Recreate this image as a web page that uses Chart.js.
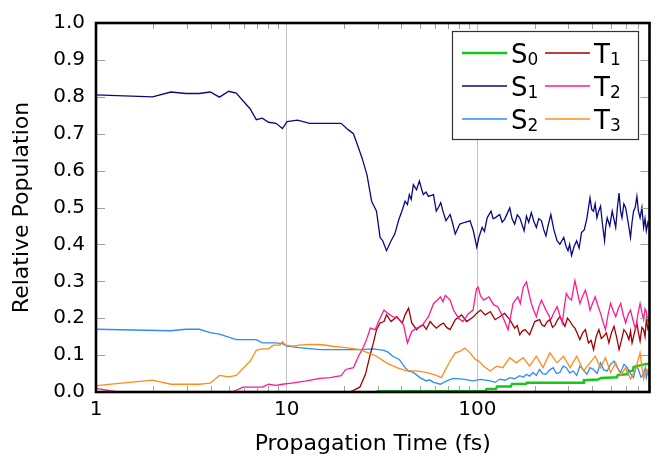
<!DOCTYPE html>
<html>
<head>
<meta charset="utf-8">
<title>Relative Population</title>
<script src="https://cdn.jsdelivr.net/npm/chart.js@4.4.1/dist/chart.umd.min.js"></script>
<style>
  html, body { margin: 0; padding: 0; background: #fff; }
  canvas { display: block; }
</style>
</head>
<body>
<canvas id="chartPopulasi" width="660" height="462"></canvas>
<script>
// Data: [waktu (fs), populasi relatif]
const s0 = [[29.6,0.002],[110,0.002],[112,0.008],[125,0.008],[127,0.015],[150,0.015],[152,0.022],[180,0.022],[182,0.025],[360,0.025],[362,0.032],[430,0.034],[445,0.038],[540,0.04],[545,0.046],[610,0.048],[614,0.056],[655,0.058],[660,0.068],[714,0.072],[770,0.076],[800,0.077]];
const s1 = [[1,0.805],[1.98,0.8],[2.47,0.813],[2.96,0.809],[3.48,0.809],[3.97,0.813],[4.44,0.799],[4.97,0.815],[5.44,0.81],[6.44,0.767],[6.93,0.738],[7.45,0.742],[8.04,0.731],[8.8,0.728],[9.5,0.714],[10.05,0.733],[11.4,0.737],[13.2,0.728],[19.3,0.728],[21,0.711],[22.4,0.7],[23.4,0.673],[24.9,0.633],[26.4,0.588],[27.9,0.517],[29.6,0.49],[30.9,0.419],[31.9,0.41],[33.4,0.383],[35.3,0.41],[36.9,0.428],[38.8,0.468],[40.2,0.49],[41.8,0.517],[43,0.508],[44,0.535],[45,0.522],[46.2,0.562],[48,0.548],[49.7,0.572],[51,0.55],[52.1,0.535],[53.8,0.542],[55.4,0.53],[58.9,0.535],[60.9,0.49],[62.5,0.5],[64.3,0.513],[66,0.49],[68.5,0.464],[72,0.481],[74,0.46],[76.6,0.428],[80.9,0.455],[86.2,0.46],[91.6,0.464],[95.3,0.437],[99.4,0.392],[102,0.42],[106,0.446],[109,0.435],[112.6,0.472],[118,0.49],[121,0.47],[124,0.472],[131,0.481],[135,0.46],[139,0.468],[148,0.499],[152,0.47],[157,0.455],[162,0.48],[167,0.472],[176,0.437],[181,0.477],[186,0.46],[192,0.486],[198,0.462],[204,0.446],[210,0.47],[217,0.464],[223,0.44],[229,0.423],[236,0.455],[243,0.481],[252,0.44],[262,0.41],[271,0.4],[284,0.419],[292,0.395],[299,0.383],[305,0.4],[312,0.37],[322,0.395],[332,0.41],[342,0.39],[352,0.432],[364,0.44],[376,0.472],[383,0.5],[390,0.526],[398,0.495],[407,0.49],[415,0.51],[424,0.472],[433,0.49],[443,0.504],[452,0.46],[465,0.41],[472,0.45],[480,0.472],[495,0.45],[510,0.49],[520,0.47],[532,0.446],[543,0.5],[554,0.539],[564,0.49],[574,0.472],[587,0.51],[600,0.499],[618,0.46],[636,0.419],[648,0.46],[660,0.49],[673,0.5],[687,0.53],[700,0.49],[714,0.472],[730,0.5],[745,0.446],[758,0.47],[770,0.437],[785,0.46],[800,0.45]];
const s2 = [[1,0.17],[2.47,0.166],[2.96,0.17],[3.48,0.17],[3.97,0.161],[4.44,0.157],[5.44,0.142],[6.93,0.142],[7.45,0.133],[8.8,0.133],[9.5,0.131],[10.05,0.124],[11.6,0.12],[15,0.115],[19,0.115],[24.2,0.115],[28.5,0.117],[32.4,0.113],[34,0.108],[36,0.097],[39,0.088],[41.8,0.066],[43.6,0.057],[46.2,0.053],[50,0.039],[54,0.03],[56,0.033],[59,0.026],[64,0.021],[69,0.03],[75,0.037],[84,0.035],[95,0.03],[104,0.034],[117,0.03],[124,0.026],[131,0.035],[140,0.032],[148,0.039],[157,0.036],[167,0.044],[174,0.04],[181,0.048],[188,0.043],[196,0.053],[204,0.045],[212,0.061],[220,0.05],[229,0.048],[240,0.06],[250,0.066],[260,0.05],[271,0.053],[282,0.07],[293,0.066],[305,0.052],[319,0.057],[332,0.045],[345,0.07],[360,0.06],[376,0.048],[390,0.066],[407,0.061],[425,0.05],[443,0.079],[460,0.06],[480,0.057],[500,0.075],[521,0.084],[543,0.065],[565,0.053],[588,0.075],[612,0.066],[636,0.05],[660,0.039],[680,0.07],[700,0.061],[722,0.04],[745,0.048],[760,0.065],[770,0.039],[785,0.058],[800,0.05]];
const t1 = [[21.5,0],[24.2,0.013],[25.9,0.048],[27.3,0.097],[28.5,0.133],[29.6,0.169],[30.9,0.187],[32.4,0.191],[33.4,0.209],[35.3,0.191],[37.8,0.204],[40.4,0.187],[41.8,0.209],[43.6,0.227],[45.3,0.187],[48,0.169],[50,0.178],[52,0.182],[54,0.17],[56.6,0.191],[59,0.18],[61,0.173],[64,0.182],[66.5,0.187],[69,0.175],[72,0.169],[76.6,0.196],[82.7,0.209],[88,0.191],[95.5,0.204],[100,0.215],[104,0.222],[110,0.209],[117,0.218],[124,0.196],[131,0.204],[139,0.213],[148,0.196],[157,0.173],[162,0.18],[167,0.155],[172,0.165],[178,0.169],[188,0.155],[200,0.191],[212,0.196],[218,0.182],[225,0.178],[232,0.19],[240,0.196],[248,0.175],[256,0.182],[263,0.195],[271,0.204],[280,0.19],[288,0.178],[297,0.2],[307,0.191],[316,0.18],[325,0.173],[335,0.158],[345,0.142],[357,0.16],[369,0.169],[376,0.15],[383,0.133],[395,0.14],[407,0.115],[420,0.15],[434,0.169],[447,0.145],[460,0.151],[475,0.16],[490,0.133],[505,0.16],[521,0.178],[537,0.15],[554,0.115],[570,0.14],[587,0.169],[605,0.16],[624,0.142],[636,0.165],[648,0.133],[667,0.16],[687,0.187],[700,0.16],[714,0.138],[730,0.175],[745,0.169],[758,0.15],[770,0.196],[785,0.17],[800,0.18]];
const t2 = [[1,0.01],[1.3,0],[5.2,0],[5.9,0.013],[7.45,0.013],[8.04,0.021],[8.8,0.018],[9.5,0.021],[10.6,0.024],[12.7,0.03],[15,0.037],[16.9,0.039],[19.3,0.044],[20.4,0.061],[22.4,0.066],[23.8,0.097],[25.4,0.124],[26.4,0.146],[27.5,0.173],[29.1,0.169],[30.6,0.195],[32.4,0.222],[34,0.213],[36,0.204],[38.3,0.2],[41,0.182],[43,0.133],[45.3,0.164],[48,0.173],[51,0.178],[55.4,0.204],[59,0.24],[62,0.25],[64,0.258],[66,0.245],[68,0.262],[72,0.249],[75,0.222],[79.7,0.2],[84,0.191],[90,0.213],[95,0.222],[99,0.28],[101,0.284],[104,0.26],[108,0.249],[115,0.258],[122,0.236],[128,0.231],[136,0.204],[145,0.169],[154,0.24],[163,0.258],[168,0.24],[174,0.284],[181,0.298],[186,0.27],[192,0.24],[198,0.22],[204,0.204],[210,0.23],[217,0.249],[223,0.235],[229,0.222],[236,0.21],[243,0.196],[252,0.215],[262,0.231],[270,0.21],[279,0.187],[286,0.23],[293,0.267],[302,0.255],[312,0.249],[318,0.275],[325,0.302],[335,0.27],[345,0.24],[357,0.26],[369,0.276],[380,0.25],[390,0.222],[402,0.24],[415,0.258],[428,0.235],[443,0.213],[456,0.19],[470,0.169],[485,0.21],[500,0.24],[516,0.22],[532,0.204],[548,0.225],[565,0.24],[582,0.21],[600,0.187],[618,0.21],[636,0.222],[655,0.195],[676,0.169],[695,0.21],[714,0.24],[730,0.215],[745,0.196],[758,0.225],[770,0.218],[785,0.19],[800,0.2]];
const t3 = [[1,0.017],[1.98,0.032],[2.47,0.021],[3.48,0.021],[3.97,0.024],[4.44,0.045],[4.97,0.041],[5.44,0.045],[6.44,0.084],[6.93,0.113],[7.45,0.117],[8.04,0.117],[8.5,0.127],[9.2,0.127],[9.5,0.136],[9.9,0.127],[10.8,0.124],[11.6,0.127],[13.2,0.129],[15.4,0.128],[17.4,0.124],[20.4,0.12],[24.2,0.115],[26.8,0.106],[29.6,0.097],[33.4,0.079],[37.8,0.066],[42.6,0.057],[47.9,0.057],[54,0.053],[61,0.045],[64.8,0.039],[67.5,0.057],[72,0.084],[76.6,0.106],[81,0.11],[86,0.119],[91.6,0.106],[97.6,0.088],[101,0.085],[108,0.07],[117,0.057],[126,0.07],[136,0.066],[148,0.093],[160,0.079],[174,0.093],[188,0.07],[204,0.097],[221,0.066],[240,0.106],[262,0.079],[283,0.097],[307,0.066],[332,0.097],[361,0.057],[390,0.079],[415,0.097],[443,0.066],[470,0.093],[500,0.053],[532,0.079],[565,0.045],[600,0.066],[636,0.035],[676,0.061],[714,0.106],[745,0.035],[770,0.061],[800,0.04]];

const seriesData = [s0, s1, s2, t1, t2, t3];
const seriesName = ['S0', 'S1', 'S2', 'T1', 'T2', 'T3'];
const seriesColor = ['#14c814', '#0a0a80', '#2a8cff', '#a00000', '#ff1a8c', '#ff8c1a'];
const seriesWidth = [2.4, 1.3, 1.3, 1.3, 1.3, 1.3];
const yTicks = [0, 0.1, 0.2, 0.3, 0.4, 0.5, 0.6, 0.7, 0.8, 0.9, 1.0];
const xLabels = [1, 10, 100];

const FONT = 'DejaVu Sans';

// Bingkai, tick kecil, dan legenda gaya pgfplots
const framePlugin = {
  id: 'frame',
  afterDraw(chart) {
    const { ctx, chartArea: a, scales } = chart;
    ctx.save();
    ctx.strokeStyle = '#a0a0a0';
    ctx.lineWidth = 1;
    ctx.beginPath();
    yTicks.forEach(v => {
      const y = Math.round(scales.y.getPixelForValue(v)) + 0.5;
      ctx.moveTo(a.left, y); ctx.lineTo(a.left + 9, y);
      ctx.moveTo(a.right, y); ctx.lineTo(a.right - 9, y);
    });
    [1, 10, 100].forEach(d => {
      for (let k = 2; k <= 9; k++) {
        const v = d * k;
        if (v > scales.x.max) break;
        const x = Math.round(scales.x.getPixelForValue(v)) + 0.5;
        ctx.moveTo(x, a.top); ctx.lineTo(x, a.top + 6);
        ctx.moveTo(x, a.bottom); ctx.lineTo(x, a.bottom - 6);
      }
    });
    ctx.stroke();

    ctx.strokeStyle = '#000';
    ctx.lineWidth = 2.6;
    ctx.strokeRect(a.left, a.top, a.right - a.left, a.bottom - a.top);

    // legenda
    const bw = 186, bh = 108;
    const bx = a.right - 11 - bw, by = a.top + 8.5;
    ctx.fillStyle = '#fff';
    ctx.fillRect(bx, by, bw, bh);
    ctx.strokeStyle = '#333';
    ctx.lineWidth = 1.2;
    ctx.strokeRect(bx, by, bw, bh);
    chart.data.datasets.forEach((ds, i) => {
      const col = Math.floor(i / 3), row = i % 3;
      const lx = bx + 9.5 + col * 83;
      const ly = by + 21.5 + row * 33;
      ctx.strokeStyle = ds.borderColor;
      ctx.lineWidth = ds.borderWidth;
      ctx.beginPath();
      ctx.moveTo(lx, ly); ctx.lineTo(lx + 45, ly);
      ctx.stroke();
      ctx.fillStyle = '#000';
      ctx.textAlign = 'left';
      ctx.textBaseline = 'alphabetic';
      ctx.font = `26px "${FONT}"`;
      const main = ds.label.charAt(0);
      ctx.fillText(main, lx + 49, ly + 9.5);
      const w = ctx.measureText(main).width;
      ctx.font = `17px "${FONT}"`;
      ctx.fillText(ds.label.slice(1), lx + 49 + w, ly + 11.5);
    });
    ctx.restore();
  }
};

const ctx = document.getElementById('chartPopulasi');
new Chart(ctx, {
  type: 'line',
  data: {
    datasets: seriesData.map((d, i) => ({
      label: seriesName[i],
      data: d.map(p => ({ x: p[0], y: p[1] })),
      borderColor: seriesColor[i],
      borderWidth: seriesWidth[i],
      pointRadius: 0,
      tension: 0,
      fill: false,
      order: seriesData.length - i
    }))
  },
  options: {
    responsive: false,
    animation: false,
    events: [],
    layout: { padding: { top: 20.5, right: 10.5, left: 0, bottom: 0 } },
    plugins: { legend: { display: false }, tooltip: { enabled: false } },
    scales: {
      x: {
        type: 'logarithmic',
        min: 1,
        max: 800,
        afterFit(scale) { scale.height = 70; },
        border: { display: false },
        grid: {
          drawTicks: false,
          color: c => (c.tick && (c.tick.value === 10 || c.tick.value === 100)) ? '#c4c4c4' : 'rgba(0,0,0,0)',
          lineWidth: 1
        },
        ticks: {
          autoSkip: false,
          maxRotation: 0,
          padding: 6,
          color: '#000',
          font: { family: FONT, size: 20 },
          callback: v => xLabels.includes(v) ? String(v) : ''
        },
        title: {
          display: true,
          text: 'Propagation Time (fs)',
          color: '#000',
          font: { family: FONT, size: 22 },
          padding: { top: 8, bottom: 5 }
        }
      },
      y: {
        min: 0,
        max: 1,
        afterFit(scale) { scale.width = 96; },
        afterBuildTicks(scale) { scale.ticks = yTicks.map(v => ({ value: v })); },
        border: { display: false },
        grid: { display: false, drawTicks: false },
        ticks: {
          padding: 11,
          color: '#000',
          font: { family: FONT, size: 20 },
          callback: v => v.toFixed(1)
        },
        title: {
          display: true,
          text: 'Relative Population',
          color: '#000',
          font: { family: FONT, size: 22 },
          padding: { top: 9, bottom: 0 }
        }
      }
    }
  },
  plugins: [framePlugin]
});
</script>
</body>
</html>
